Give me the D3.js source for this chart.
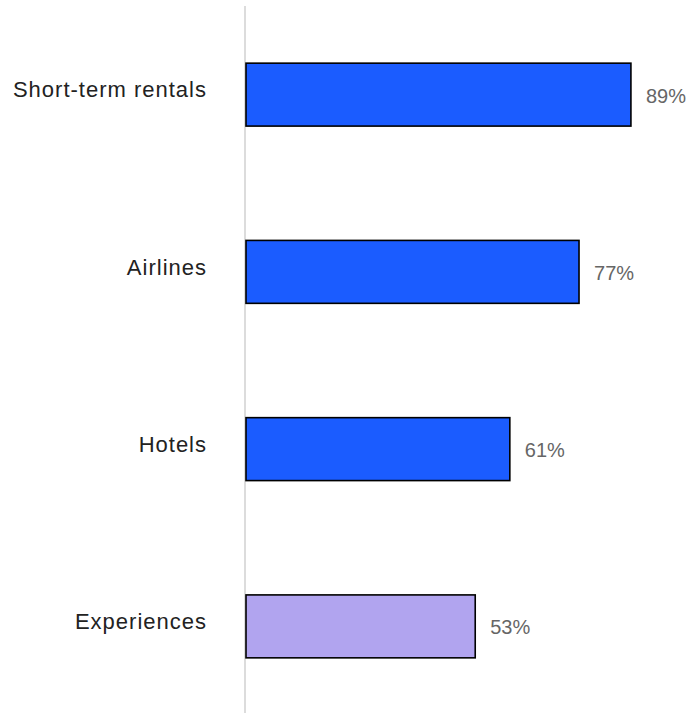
<!DOCTYPE html>
<html><head><meta charset="utf-8">
<script src="https://cdn.jsdelivr.net/npm/d3@7"></script>
<style>body{margin:0;background:#fff}svg{display:block}</style>
</head><body>
<script>
const categories = ["Short-term rentals", "Airlines", "Hotels", "Experiences"];
const values = [89, 77, 61, 53];
const valueLabels = ["89%", "77%", "61%", "53%"];
const colors = ["#1b5cff", "#1b5cff", "#1b5cff", "#b1a4ef"];

const W = 692, H = 713;
const svg = d3.select("body").append("svg").attr("width", W).attr("height", H);
const x = d3.scaleLinear().domain([0, 100]).range([246, 678.5]);
const y = d3.scaleBand().domain(categories).range([6, 715]).paddingInner(0.645).paddingOuter(0.3225);

svg.append("line").attr("x1", 245).attr("x2", 245).attr("y1", 6).attr("y2", H)
  .attr("stroke", "#dcdcdc").attr("stroke-width", 2);

const data = categories.map((c, i) => ({c, v: values[i], l: valueLabels[i], col: colors[i]}));

svg.selectAll("rect.bar").data(data).join("rect").attr("class", "bar")
  .attr("x", x(0)).attr("y", d => y(d.c))
  .attr("width", d => x(d.v) - x(0)).attr("height", y.bandwidth())
  .attr("fill", d => d.col).attr("stroke", "#000").attr("stroke-width", 1.6);

svg.selectAll("text.cat").data(data).join("text").attr("class", "cat")
  .attr("x", 207).attr("y", d => y(d.c) + y.bandwidth() / 2 - 5)
  .attr("dy", "0.35em").attr("text-anchor", "end")
  .attr("font-family", "Liberation Sans, Arial, sans-serif").attr("font-size", 22)
  .attr("letter-spacing", 1)
  .attr("fill", "#222").text(d => d.c);

svg.selectAll("text.val").data(data).join("text").attr("class", "val")
  .attr("x", d => x(d.v) + 15).attr("y", d => y(d.c) + y.bandwidth() / 2 + 1)
  .attr("dy", "0.35em")
  .attr("font-family", "Liberation Sans, Arial, sans-serif").attr("font-size", 20)
  .attr("fill", "#666").text(d => d.l);
</script>
</body></html>
